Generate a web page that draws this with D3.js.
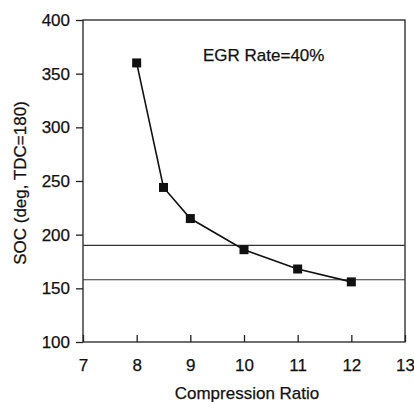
<!DOCTYPE html>
<html><head><meta charset="utf-8">
<script src="https://cdn.jsdelivr.net/npm/d3@7"></script>
<style>body{margin:0;background:#fff}svg{display:block;font-family:"Liberation Sans",Arial,sans-serif}</style>
</head><body>
<svg id="c" width="414" height="402"></svg>
<script>
const ratios = [8, 8.5, 9, 10, 11, 12];
const soc = [360, 244, 215, 186, 168, 156];
const refLines = [190, 158];
const xTicks = [7, 8, 9, 10, 11, 12, 13];
const yTicks = [100, 150, 200, 250, 300, 350, 400];
const title = "EGR Rate=40%";
const xLabel = "Compression Ratio";
const yLabel = "SOC (deg, TDC=180)";

const svg = d3.select("#c");
const m = {l: 83, r: 405, t: 20, b: 342};
const x = d3.scaleLinear().domain([7, 13]).range([m.l, m.r]);
const y = d3.scaleLinear().domain([100, 400]).range([m.b, m.t]);
const fs = 17;
const txtStyle = sel => sel.attr("font-size", fs).attr("fill", "#111")
  .attr("stroke", "#111").attr("stroke-width", 0.25)
  .attr("font-family", "Liberation Sans, Arial, sans-serif");

// frame
svg.append("rect").attr("x", m.l).attr("y", m.t).attr("width", m.r - m.l).attr("height", m.b - m.t)
  .attr("fill", "none").attr("stroke", "#222").attr("stroke-width", 1.3);

// reference lines
svg.selectAll("line.ref").data(refLines).join("line").attr("class", "ref")
  .attr("x1", m.l).attr("x2", m.r).attr("y1", d => y(d)).attr("y2", d => y(d))
  .attr("stroke", "#333").attr("stroke-width", 1.2);

// y axis
const ya = svg.append("g").attr("transform", `translate(${m.l},0)`)
  .call(d3.axisLeft(y).tickValues(yTicks).tickFormat(d3.format("d")).tickSize(7).tickPadding(6));
ya.select(".domain").remove();
ya.selectAll("line").attr("stroke", "#222").attr("stroke-width", 1.3);
ya.selectAll("text").call(txtStyle);

// x axis
const xa = svg.append("g").attr("transform", `translate(0,${m.b})`)
  .call(d3.axisBottom(x).tickValues(xTicks).tickFormat(d3.format("d")).tickSize(-7).tickPadding(17));
xa.select(".domain").remove();
xa.selectAll("line").attr("stroke", "#222").attr("stroke-width", 1.3);
xa.selectAll("text").call(txtStyle);

// line
const pts = ratios.map((r, i) => [r, soc[i]]);
svg.append("path").datum(pts)
  .attr("d", d3.line().x(d => x(d[0])).y(d => y(d[1])))
  .attr("fill", "none").attr("stroke", "#111").attr("stroke-width", 1.6);

const s = 9;
svg.selectAll("rect.pt").data(pts).join("rect").attr("class", "pt")
  .attr("x", d => x(d[0]) - s / 2).attr("y", d => y(d[1]) - s / 2)
  .attr("width", s).attr("height", s).attr("fill", "#111");

// texts
svg.append("text").attr("x", 203).attr("y", 61).call(txtStyle).text(title);
svg.append("text").attr("x", (m.l + m.r) / 2 + 3).attr("y", 399).attr("text-anchor", "middle")
  .call(txtStyle).text(xLabel);
svg.append("text").attr("transform", `translate(26,${(m.t + m.b) / 2 + 2}) rotate(-90)`)
  .attr("text-anchor", "middle").call(txtStyle).text(yLabel);
</script>
</body></html>
